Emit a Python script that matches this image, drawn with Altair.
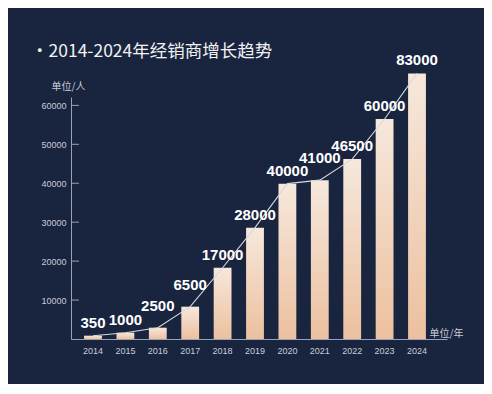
import altair as alt
import pandas as pd

years = ["2014", "2015", "2016", "2017", "2018", "2019", "2020", "2021", "2022", "2023", "2024"]
label_values = [350, 1000, 2500, 6500, 17000, 28000, 40000, 41000, 46500, 60000, 83000]
# bar heights as drawn in the picture (read against the y axis)
bar_heights = [850, 1620, 2900, 8300, 18300, 28600, 39900, 40800, 46200, 56500, 68200]
y_ticks = [10000, 20000, 30000, 40000, 50000, 60000]
# years whose value label sits higher above its bar in the picture
raised_label_years = ["2016", "2017", "2021"]

df = pd.DataFrame({"year": years, "height": bar_heights,
                   "label": [str(v) for v in label_values]})
ticks_df = pd.DataFrame({"height": y_ticks})

BG = "#19243f"
AXIS = "#9aa2b3"
LBL = "#c9cdd6"

y_scale = alt.Scale(domain=[0, 62150], nice=False)

x_axis = alt.Axis(
    title="单位/年", titleAngle=0, titleX=358, titleY=-6, titleAlign="left",
    titleBaseline="middle", titleColor=LBL, titleFontSize=10, titleFontWeight="normal",
    titleFont="Noto Sans CJK SC",
    labelAngle=0, labelColor=LBL, labelFontSize=9, labelFont="Liberation Sans",
    labelPadding=7, ticks=False, domainColor=AXIS, domainWidth=1, grid=False,
)
y_axis = alt.Axis(
    title="单位/人", titleAngle=0, titleX=-3, titleY=-11, titleAlign="center",
    titleBaseline="middle", titleColor=LBL, titleFontSize=10, titleFontWeight="normal",
    titleFont="Noto Sans CJK SC",
    values=y_ticks, format="d", labelColor=LBL, labelFontSize=9,
    labelFont="Liberation Sans", labelPadding=5, ticks=False,
    domainColor=AXIS, domainWidth=1, grid=False,
)

x_enc = alt.X(
    "year:N",
    sort=years,
    scale=alt.Scale(paddingInner=0.45, paddingOuter=0.5275, align=0.383),
    axis=x_axis,
)
y_enc = alt.Y("height:Q", scale=y_scale, axis=y_axis)

base = alt.Chart(df).encode(x=x_enc, y=y_enc)

bars = base.mark_bar(
    fill=alt.Gradient(
        gradient="linear",
        stops=[alt.GradientStop(color="#f6e8dc", offset=0),
               alt.GradientStop(color="#ecc09f", offset=1)],
        x1=0, x2=0, y1=0, y2=1,
    )
)

line = base.mark_line(color="#d8d8dc", strokeWidth=1.1)

text_style = dict(baseline="alphabetic", fontSize=15, fontWeight="bold",
                  font="Liberation Sans", color="#ffffff")

labels_low = base.transform_filter(
    ~alt.FieldOneOfPredicate(field="year", oneOf=raised_label_years)
).mark_text(dy=-8, **text_style).encode(text="label:N")

labels_high = base.transform_filter(
    alt.FieldOneOfPredicate(field="year", oneOf=raised_label_years)
).mark_text(dy=-17, **text_style).encode(text="label:N")

ticks = alt.Chart(ticks_df).mark_rule(color=AXIS, strokeWidth=1).encode(
    y=alt.Y("height:Q", scale=y_scale, axis=y_axis),
    x=alt.value(0), x2=alt.value(8),
)

chart = alt.layer(bars, line, ticks, labels_low, labels_high).properties(
    width=376,
    height=242,
    background=BG,
    padding={"left": 63, "top": 89, "right": 37, "bottom": 45},
    autosize=alt.AutoSizeParams(type="none"),
    title=alt.TitleParams(
        text="·2014-2024年经销商增长趋势",
        anchor="start", frame="group", orient="top",
        dx=-40, dy=11, fontSize=17.5, fontWeight="normal",
        font="Noto Sans CJK SC", color="#f2f2f2",
    ),
).configure_view(stroke=None)

chart.save("out.html", embed_options={"renderer": "svg", "actions": False})
